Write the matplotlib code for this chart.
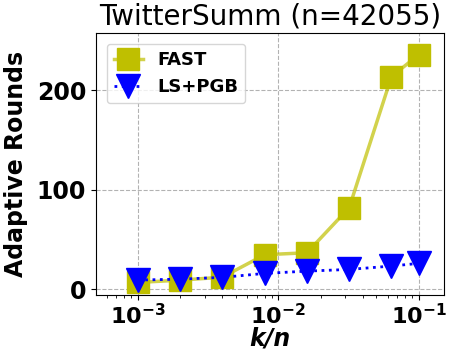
import matplotlib
matplotlib.use("Agg")
import matplotlib.pyplot as plt

k_over_n = [0.001, 0.002, 0.004, 0.008, 0.016, 0.032, 0.064, 0.1]
fast_rounds = [6.7, 9, 12, 34.6, 36.6, 82, 214, 236]
lspgb_rounds = [9.1, 10, 11.8, 15.8, 18.1, 19.8, 23.2, 25.9]

fig = plt.figure(figsize=(4.5, 3.5), dpi=100)
ax = fig.add_axes([0.213, 0.157, 0.773, 0.749])

ax.plot(k_over_n, fast_rounds, color=(0.75, 0.75, 0.0, 0.7), linestyle="-", linewidth=2.5,
        marker="s", markersize=16, markerfacecolor="y", markeredgecolor="y", label="FAST")
ax.plot(k_over_n, lspgb_rounds, color="b", linestyle=":", linewidth=2,
        marker="v", markersize=17, markerfacecolor="b", markeredgecolor="b", label="LS+PGB")

ax.set_xscale("log")
ax.set_xlim(10 ** -3.299, 10 ** -0.822)
ax.set_ylim(-6, 258)
ax.set_yticks([0, 100, 200])
ax.grid(True, which="major", linestyle="--", color="gray", alpha=0.6)

ax.set_title("TwitterSumm (n=42055)", fontsize=20)
ax.set_xlabel("k/n", fontsize=17, fontweight="bold", fontstyle="italic", labelpad=-1)
ax.set_ylabel("Adaptive Rounds", fontsize=17, fontweight="bold", labelpad=6)
for lbl in ax.get_xticklabels() + ax.get_yticklabels():
    lbl.set_fontweight("bold")
ax.tick_params(axis="x", which="major", labelsize=16, pad=2)
ax.tick_params(axis="y", which="major", labelsize=17)

leg = ax.legend(loc="upper left", prop={"weight": "bold", "size": 13},
                handlelength=1.6, borderaxespad=0.6)

fig.savefig("out.png", dpi=100)
